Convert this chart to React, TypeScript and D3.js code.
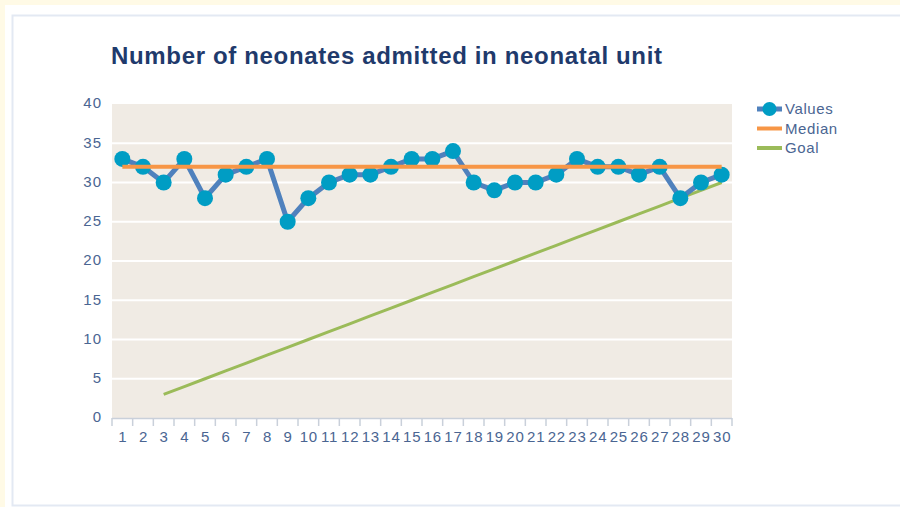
import React, { useRef, useEffect } from 'react';
import * as d3 from 'd3';

const days = ['1','2','3','4','5','6','7','8','9','10','11','12','13','14','15','16','17','18','19','20','21','22','23','24','25','26','27','28','29','30'];
const values = [33, 32, 30, 33, 28, 31, 32, 33, 25, 28, 30, 31, 31, 32, 33, 33, 34, 30, 29, 30, 30, 31, 33, 32, 32, 31, 32, 28, 30, 31];
const median = [32, 32, 32, 32, 32, 32, 32, 32, 32, 32, 32, 32, 32, 32, 32, 32, 32, 32, 32, 32, 32, 32, 32, 32, 32, 32, 32, 32, 32, 32];
const goalDays = ['3','4','5','6','7','8','9','10','11','12','13','14','15','16','17','18','19','20','21','22','23','24','25','26','27','28','29','30'];
const goal = [3, 4, 5, 6, 7, 8, 9, 10, 11, 12, 13, 14, 15, 16, 17, 18, 19, 20, 21, 22, 23, 24, 25, 26, 27, 28, 29, 30];
const yTicks = [0, 5, 10, 15, 20, 25, 30, 35, 40];
const legendItems = ['Values', 'Median', 'Goal'];

const FONT = '"Liberation Sans", Arial, sans-serif';
const LABEL = '#4a6592';

const App = () => {
    const chartRef = useRef(null);

    useEffect(() => {
        d3.select(chartRef.current).selectAll("*").remove();

        const svg = d3.select(chartRef.current)
            .attr("width", 900)
            .attr("height", 507);

        // page frame
        svg.append("rect").attr("width", 900).attr("height", 507).attr("fill", "#fffae6");
        svg.append("rect").attr("x", 5).attr("y", 5).attr("width", 895).attr("height", 502).attr("fill", "#ffffff");
        svg.append("rect").attr("x", 12.5).attr("y", 15.5).attr("width", 900).attr("height", 490)
            .attr("fill", "none").attr("stroke", "#e3e9f3").attr("stroke-width", 2);

        const left = 112, right = 732, top = 104, bottom = 418;

        const x = d3.scaleBand().domain(days).range([left, right]).padding(0);
        const cx = d => x(d) + x.bandwidth() / 2;
        const y = d3.scaleLinear().domain([0, 40]).range([bottom, top]);

        svg.append("text")
            .attr("x", 111).attr("y", 64)
            .attr("font-family", FONT).attr("font-weight", "bold").attr("font-size", 24)
            .attr("textLength", 551).attr("lengthAdjust", "spacing")
            .attr("fill", "#1f3a6c")
            .text("Number of neonates admitted in neonatal unit");

        svg.append("rect")
            .attr("x", left).attr("y", top).attr("width", right - left).attr("height", bottom - top)
            .attr("fill", "#f0ebe4");

        svg.append("g").selectAll("line")
            .data(yTicks.filter(t => t > 0 && t < 40))
            .join("line")
            .attr("x1", left).attr("x2", right)
            .attr("y1", d => y(d)).attr("y2", d => y(d))
            .attr("stroke", "#ffffff").attr("stroke-width", 2);

        // y labels
        svg.append("g").selectAll("text")
            .data(yTicks)
            .join("text")
            .attr("x", 102).attr("y", d => y(d) - 1).attr("dy", "0.35em")
            .attr("text-anchor", "end")
            .attr("font-family", FONT).attr("font-size", 15).attr("letter-spacing", 1).attr("fill", LABEL)
            .text(d => d);

        // x axis line + boundary ticks
        svg.append("line")
            .attr("x1", left).attr("x2", right).attr("y1", bottom + 0.5).attr("y2", bottom + 0.5)
            .attr("stroke", "#c9d0da").attr("stroke-width", 1.5);
        const bounds = days.map(d => x(d)).concat([right]);
        svg.append("g").selectAll("line")
            .data(bounds)
            .join("line")
            .attr("x1", d => d).attr("x2", d => d)
            .attr("y1", bottom).attr("y2", bottom + 8)
            .attr("stroke", "#c9d0da").attr("stroke-width", 1.5);

        svg.append("g").selectAll("text")
            .data(days)
            .join("text")
            .attr("x", d => cx(d) + 0.5).attr("y", 437).attr("dy", "0.35em")
            .attr("text-anchor", "middle")
            .attr("font-family", FONT).attr("font-size", 15).attr("letter-spacing", 0.8).attr("fill", LABEL)
            .text(d => d);

        const line = d3.line();

        svg.append("path")
            .attr("d", line(goalDays.map((d, i) => [cx(d), y(goal[i])])))
            .attr("fill", "none").attr("stroke", "#9bbb59").attr("stroke-width", 3);

        svg.append("path")
            .attr("d", line(days.map((d, i) => [cx(d), y(values[i])])))
            .attr("fill", "none").attr("stroke", "#4f81bd").attr("stroke-width", 5)
            .attr("stroke-linejoin", "round");

        svg.append("g").selectAll("circle")
            .data(days)
            .join("circle")
            .attr("cx", d => cx(d)).attr("cy", (d, i) => y(values[i])).attr("r", 8)
            .attr("fill", "#009dc4");

        svg.append("path")
            .attr("d", line(days.map((d, i) => [cx(d), y(median[i])])))
            .attr("fill", "none").attr("stroke", "#f79646").attr("stroke-width", 4);

        // legend
        const lg = svg.append("g");
        const colors = ['#4f81bd', '#f79646', '#9bbb59'];
        legendItems.forEach((name, i) => {
            const ly = 109 + i * 19.5;
            lg.append("line")
                .attr("x1", 757).attr("x2", 782).attr("y1", ly).attr("y2", ly)
                .attr("stroke", colors[i]).attr("stroke-width", i === 0 ? 5 : 4);
            if (i === 0) {
                lg.append("circle").attr("cx", 769.5).attr("cy", ly).attr("r", 7).attr("fill", "#009dc4");
            }
            lg.append("text")
                .attr("x", 785).attr("y", ly).attr("dy", "0.35em")
                .attr("font-family", FONT).attr("font-size", 15).attr("letter-spacing", 0.6).attr("fill", LABEL)
                .text(name);
        });
    }, []);

    return <svg ref={chartRef} style={{ position: 'absolute', left: 0, top: 0, display: 'block' }}></svg>;
};

export default App;
